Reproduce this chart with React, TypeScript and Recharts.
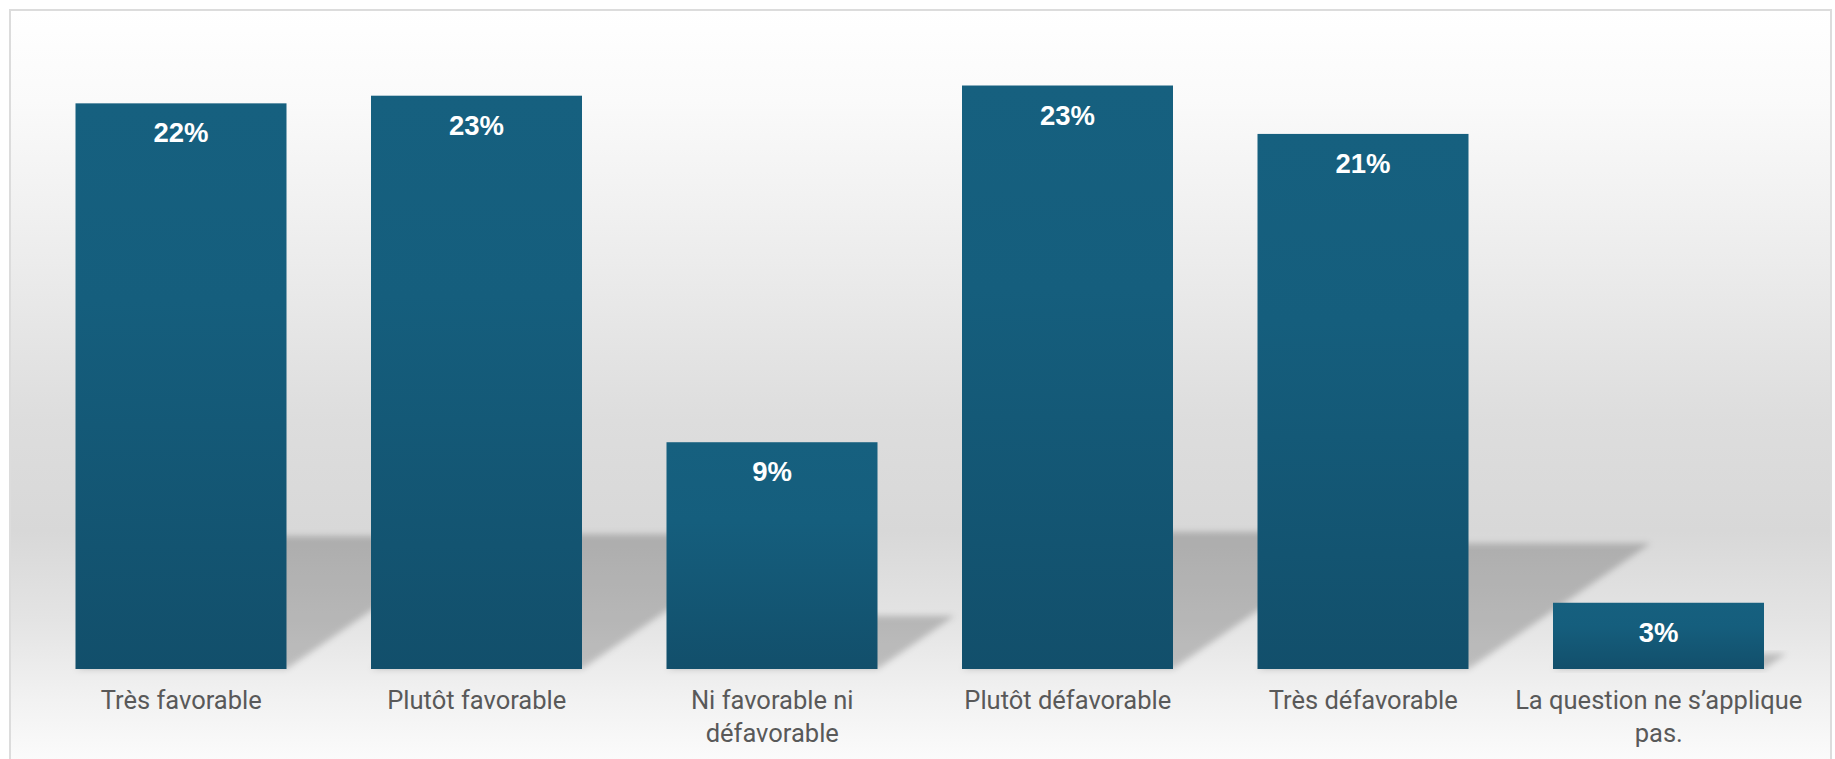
import React from 'react';
import { BarChart, Bar, XAxis, YAxis, LabelList } from 'recharts';

const categories = [
  'Très favorable',
  'Plutôt favorable',
  'Ni favorable ni défavorable',
  'Plutôt défavorable',
  'Très défavorable',
  'La question ne s’applique pas.',
];
const shares = [22.2, 22.5, 8.9, 22.9, 21.0, 2.6];

const data = categories.map((name, i) => ({ name, share: shares[i] }));

// greedy wrap on character count, good enough for these labels
const wrapLabel = (text: string, max = 25) => {
  const words = text.split(' ');
  const lines: string[] = [];
  let cur = '';
  words.forEach((w) => {
    const next = cur ? cur + ' ' + w : w;
    if (next.length > max && cur) {
      lines.push(cur);
      cur = w;
    } else {
      cur = next;
    }
  });
  if (cur) lines.push(cur);
  return lines;
};

const CategoryTick = (props: any) => {
  const { x, y, payload } = props;
  const lines = wrapLabel(payload.value);
  return (
    <text
      x={x}
      y={y}
      textAnchor="middle"
      fill="#595959"
      fontSize={25.5}
      fontFamily="Roboto, sans-serif"
    >
      {lines.map((l, i) => (
        <tspan key={i} x={x} dy={i === 0 ? 40 : 33}>
          {l}
        </tspan>
      ))}
    </text>
  );
};

// bar with a skewed floor shadow going up-right
const ShadowBar = (props: any) => {
  const { x, y, width, height } = props;
  const h = height * 0.235;
  const s = 1.45;
  const b = y + height;
  const pts = `${x},${b} ${x + width},${b} ${x + width + s * h},${b - h} ${x + s * h},${b - h}`;
  return (
    <g>
      <polygon points={pts} fill="#000" fillOpacity={0.2} filter="url(#shadowBlur)" />
      <rect x={x} y={y} width={width} height={height} fill="url(#barFill)" />
    </g>
  );
};

const ValueLabel = (props: any) => {
  const { x, y, width, value } = props;
  return (
    <text
      x={x + width / 2}
      y={y + 39}
      textAnchor="middle"
      fill="#fff"
      fontSize={27.5}
      fontWeight="bold"
      fontFamily="'Liberation Sans', Arial, sans-serif"
    >
      {Math.round(value)}%
    </text>
  );
};

export default function App() {
  return (
    <div style={{ position: 'absolute', left: 0, top: 0, width: 1835, height: 759, overflow: 'hidden', background: '#fff' }}>
      <div
        style={{
          position: 'absolute',
          left: 9,
          top: 9,
          width: 1819,
          height: 770,
          border: '2px solid #dcdcdc',
          background:
            'linear-gradient(to bottom, #ffffff 0px, #fafafa 90px, #ededed 240px, #dddddd 410px, #d8d8d8 520px, #e4e4e4 610px, #f2f2f2 690px, #fbfbfb 750px)',
        }}
      />
      <div style={{ position: 'absolute', left: 0, top: 0 }}>
        <BarChart
          width={1835}
          height={759}
          data={data}
          margin={{ top: 32, right: 28.5, left: 33.5, bottom: 0 }}
        >
          <defs>
            <linearGradient id="barFill" x1="0" y1="0" x2="0" y2="1">
              <stop offset="0%" stopColor="#16607f" />
              <stop offset="35%" stopColor="#155e7d" />
              <stop offset="100%" stopColor="#124f6b" />
            </linearGradient>
            <filter id="shadowBlur" x="-20%" y="-20%" width="140%" height="140%">
              <feGaussianBlur stdDeviation="3" />
            </filter>
          </defs>
          <XAxis
            dataKey="name"
            axisLine={false}
            tickLine={false}
            tickSize={0}
            tickMargin={0}
            height={90}
            interval={0}
            tick={<CategoryTick />}
          />
          <YAxis hide domain={[0, 25]} />
          <Bar dataKey="share" barSize={211} shape={<ShadowBar />} isAnimationActive={false}>
            <LabelList dataKey="share" content={<ValueLabel />} />
          </Bar>
        </BarChart>
      </div>
    </div>
  );
}
